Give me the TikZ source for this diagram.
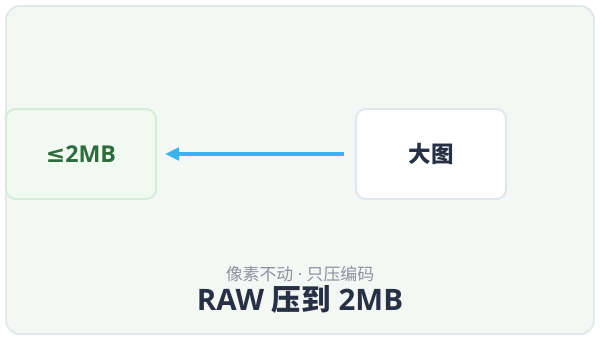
\documentclass[tikz,border=0pt]{standalone}
\usepackage{fontspec}
\setmainfont{Open Sans}
\newfontfamily\cjk{Noto Sans CJK SC}
\newfontfamily\symb{DejaVu Sans}
\usepackage{tikz}
\usetikzlibrary{positioning, arrows.meta}
\definecolor{PanelBg}{HTML}{F4F8F5}
\definecolor{PanelLine}{HTML}{E2E8EC}
\definecolor{SmallBg}{HTML}{F0FAF1}
\definecolor{SmallLine}{HTML}{D3EDD8}
\definecolor{SmallText}{HTML}{2E6B3E}
\definecolor{BigLine}{HTML}{E2E6EE}
\definecolor{InkDark}{HTML}{273044}
\definecolor{InkGrey}{HTML}{8A929E}
\definecolor{ArrowBlue}{HTML}{3AB4EA}

\begin{document}
\begin{tikzpicture}[x=0.025cm, y=-0.025cm,
    boxbase/.style={rounded corners=7pt, line width=1.4pt, minimum width=3.75cm,
                    minimum height=2.25cm, font=\fontsize{16}{18}\selectfont\bfseries},
    smallbox/.style={boxbase, draw=SmallLine, fill=SmallBg, text=SmallText},
    bigbox/.style={boxbase, draw=BigLine, fill=white, text=InkDark}]
      \useasboundingbox (0,0) rectangle (600,340);
      %% Panel
      \draw[PanelLine, fill=PanelBg, line width=1.4pt, rounded corners=10pt] (6,6) rectangle (594,334);
      %% Boxes
      \node[smallbox, font=\fontsize{16.5}{18}\selectfont\bfseries] (small) at (81,154) {{\symb\bfseries ≤}2MB};
      \node[bigbox] (big) at (431,154) {\cjk 大图};
      %% Compression arrow
      \draw[ArrowBlue, line width=2.2pt, -{Triangle[length=10pt, width=9pt]},
            shorten <=0.275cm, shorten >=0.2cm] (big.west) -- (small.east);
      %% Captions
      \node[InkGrey, font=\fontsize{12}{14}\selectfont] (sub) at (300,274) {{\cjk 像素不动} · {\cjk 只压编码}};
      \node[InkDark, font=\fontsize{21}{24}\selectfont\bfseries] (title) at (300,299) {RAW {\cjk 压到} 2MB};
\end{tikzpicture}
\end{document}
